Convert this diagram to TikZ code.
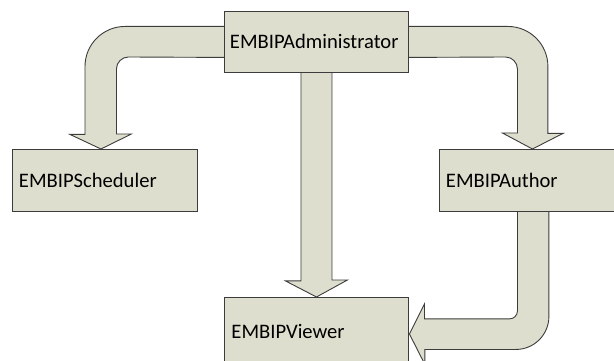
\documentclass[tikz,border=0pt]{standalone}
\usepackage{fontspec}
\setmainfont{Carlito}
\usetikzlibrary{calc}
\pgfdeclarelayer{background}
\pgfsetlayers{background,main}
\definecolor{fillc}{RGB}{221,222,205}
\definecolor{linec}{RGB}{60,60,60}
\begin{document}
\begin{tikzpicture}[x=1pt,y=-1pt,
  box/.style={draw=linec, fill=fillc, line width=0.9pt, anchor=north west,
    inner ysep=0pt, align=left, text height=14pt, text depth=0pt,
    font=\fontsize{20.6}{24}\selectfont},
  blockarrow/.style={draw=linec, fill=fillc, line width=0.9pt}]
\useasboundingbox (0,0) rectangle (614,361);
\node[box, inner xsep=5.5pt, text width=173pt, minimum height=61pt] (admin) at (224,11) {EMBIPAdministrator};
\node[box, inner xsep=6.5pt, text width=172pt, minimum height=62pt] (sched) at (12,149) {EMBIPScheduler};
\node[box, inner xsep=6.5pt, text width=173pt, minimum height=62pt] (author) at (439,149) {EMBIPAuthor};
\node[box, inner xsep=7pt, text width=170pt, minimum height=69pt] (viewer) at (224,297) {EMBIPViewer};
\begin{pgfonlayer}{background}
% Administrator -> Scheduler
\path[blockarrow] ($(admin.west)+(6,-15.5)$) -- ++(-105,0) arc(270:180:40)
  -- ++(0,68) -- ++(-15,0) -- ($(sched.north)+(-4,0)$) -- ++(30.5,-15) -- ++(-15,0)
  -- ++(0,-65) arc(180:270:12) -- ($(admin.west)+(6,15.5)$) -- cycle;
% Administrator -> Author
\path[blockarrow] ($(admin.east)+(-6,-15.5)$) -- ++(105,0) arc(270:360:40)
  -- ++(0,67) -- ++(15,0) -- (author.north) -- ++(-30,-16) -- ++(15,0)
  -- ++(0,-64) arc(0:-90:12) -- ($(admin.east)+(-6,15.5)$) -- cycle;
% Administrator -> Viewer
\path[blockarrow] ($(admin.south)+(-15.5,-6)$) -- ++(0,214) -- ++(-15.5,0)
  -- (viewer.north) -- ++(31,-17) -- ++(-15.5,0) -- ++(0,-214) -- cycle;
% Author -> Viewer
\path[blockarrow] ($(author.south)+(-15,-6)$) -- ++(0,105) arc(0:90:8)
  -- ++(-85,0) -- ++(0,-15) -- ($(viewer.east)+(0.5,2)$) -- ++(15.5,30.5)
  -- ++(0,-15) -- ++(91,0) arc(90:0:33) -- ++(0,-111) -- cycle;
\end{pgfonlayer}
\end{tikzpicture}
\end{document}
